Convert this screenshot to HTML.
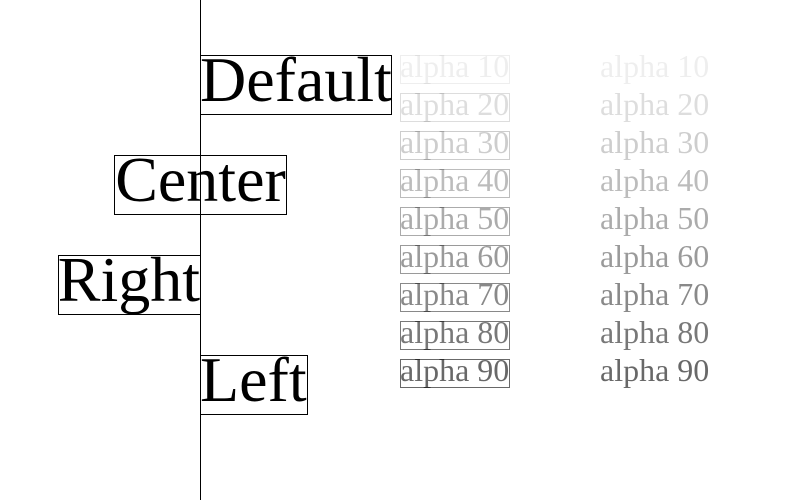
<!DOCTYPE html>
<html><head><meta charset="utf-8"><style>
html,body{margin:0;padding:0;background:#fff}
body{width:800px;height:500px;position:relative;overflow:hidden;font-family:"Liberation Serif",serif}
.b{position:absolute;border:1px solid #000;box-sizing:border-box}
.t{position:absolute;white-space:nowrap}
.big{font-size:64px;line-height:64px}
.sm{font-size:32px;line-height:32px}
</style></head><body>
<div style="position:absolute;left:200px;top:0;width:1px;height:500px;background:#000"></div>

<div class="b" style="left:200px;top:55px;width:192px;height:60px"></div>
<div class="t big" style="left:200px;top:48px">Default</div>
<div class="b" style="left:114px;top:155px;width:173px;height:60px"></div>
<div class="t big" style="left:114px;top:148px;width:173px;text-align:center">Center</div>
<div class="b" style="left:58px;top:255px;width:143px;height:60px"></div>
<div class="t big" style="left:0;top:248px;width:200px;text-align:right">Right</div>
<div class="b" style="left:200px;top:355px;width:108px;height:60px"></div>
<div class="t big" style="left:200px;top:348px">Left</div>

<div id="al"></div>
<script>
var h='';
for(var i=1;i<=9;i++){
 var y=55+(i-1)*38, c='rgba(0,0,0,'+(i*0.1*0.66).toFixed(3)+')';
 h+='<div class="b" style="left:400px;top:'+y+'px;width:110px;height:29px;border-color:'+c+'"></div>';
 h+='<div class="t sm" style="left:400px;top:'+(y-5)+'px;color:'+c+'">alpha '+(i*10)+'</div>';
 h+='<div class="t sm" style="left:600px;top:'+(y-5)+'px;color:'+c+'">alpha '+(i*10)+'</div>';
}
document.getElementById('al').innerHTML=h;
</script>
</body></html>
